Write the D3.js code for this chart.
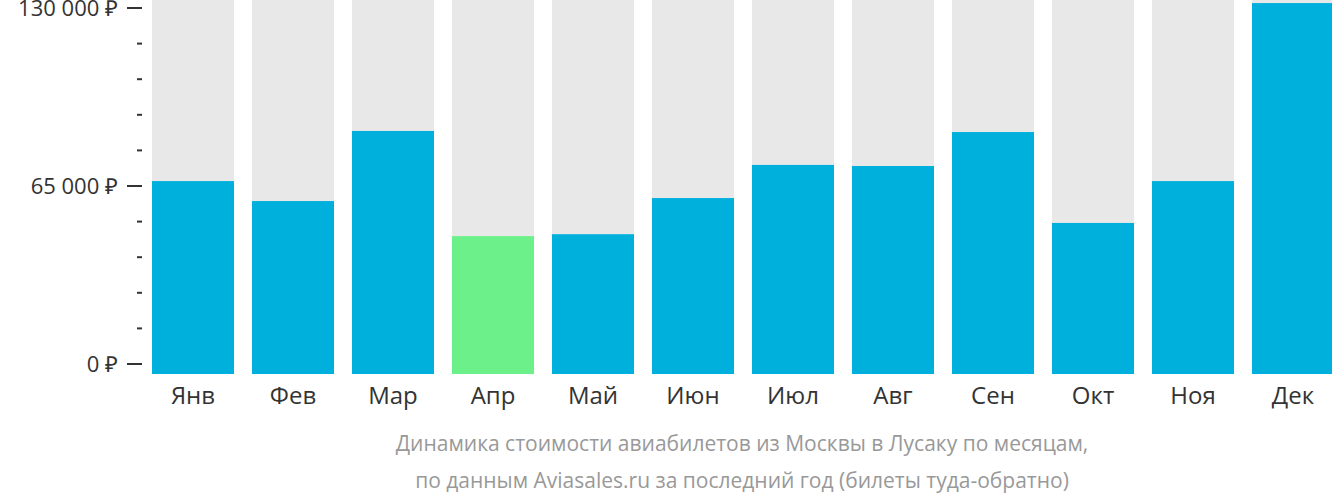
<!DOCTYPE html><html><head><meta charset="utf-8">
<script src="https://cdn.jsdelivr.net/npm/d3@7"></script>
<style>body{margin:0;background:#fff}svg{font-family:"Open Sans",sans-serif}</style></head><body>
<svg id="c" width="1332" height="502"></svg>
<script>
const months=["Янв","Фев","Мар","Апр","Май","Июн","Июл","Авг","Сен","Окт","Ноя","Дек"];
const prices=[66800,59500,85100,46700,47400,60600,72700,72300,84700,51500,66800,131800];
const highlight=[false,false,false,true,false,false,false,false,false,false,false,false];
const tickValues=[0,65000,130000];
const tickLabels=["0 ₽","65 000 ₽","130 000 ₽"];
const svg=d3.select("#c");
const y=d3.scaleLinear().domain([0,130000]).range([364,8]);
const x=d3.scaleBand().domain(months).range([152,1334]).paddingInner(0.18).paddingOuter(0).align(0);
svg.selectAll(".bg").data(months).join("rect").attr("x",d=>x(d)).attr("width",x.bandwidth()).attr("y",0).attr("height",y(0)+10).attr("fill","#e8e8e8");
svg.selectAll(".b").data(prices).join("rect").attr("x",(d,i)=>x(months[i])).attr("width",x.bandwidth()).attr("y",d=>y(d)).attr("height",d=>y(0)+10-y(d)).attr("fill",(d,i)=>highlight[i]?"#6cf08a":"#00b0dc");
const minor=d3.range(0,130001,13000);
svg.selectAll(".mt").data(minor).join("line").attr("x1",137).attr("x2",142).attr("y1",d=>y(d)).attr("y2",d=>y(d)).attr("stroke","#333").attr("stroke-width",2);
svg.selectAll(".Mt").data(tickValues).join("line").attr("x1",127).attr("x2",142).attr("y1",d=>y(d)).attr("y2",d=>y(d)).attr("stroke","#333").attr("stroke-width",2);
svg.selectAll(".tl").data(tickValues).join("text").attr("x",118).attr("y",d=>y(d)).attr("dy","0.35em").attr("text-anchor","end").attr("font-size",22).attr("fill","#333").text((d,i)=>tickLabels[i]);
svg.selectAll(".ml").data(months).join("text").attr("x",d=>x(d)+x.bandwidth()/2).attr("y",396).attr("dy","0.35em").attr("text-anchor","middle").attr("font-size",24).attr("fill","#333").text(d=>d);
const cap=["Динамика стоимости авиабилетов из Москвы в Лусаку по месяцам,","по данным Aviasales.ru за последний год (билеты туда-обратно)"];
svg.selectAll(".cap").data(cap).join("text").attr("x",742).attr("y",(d,i)=>444+i*37).attr("dy","0.35em").attr("text-anchor","middle").attr("font-size",21).attr("fill","#999").text(d=>d);
</script></body></html>
